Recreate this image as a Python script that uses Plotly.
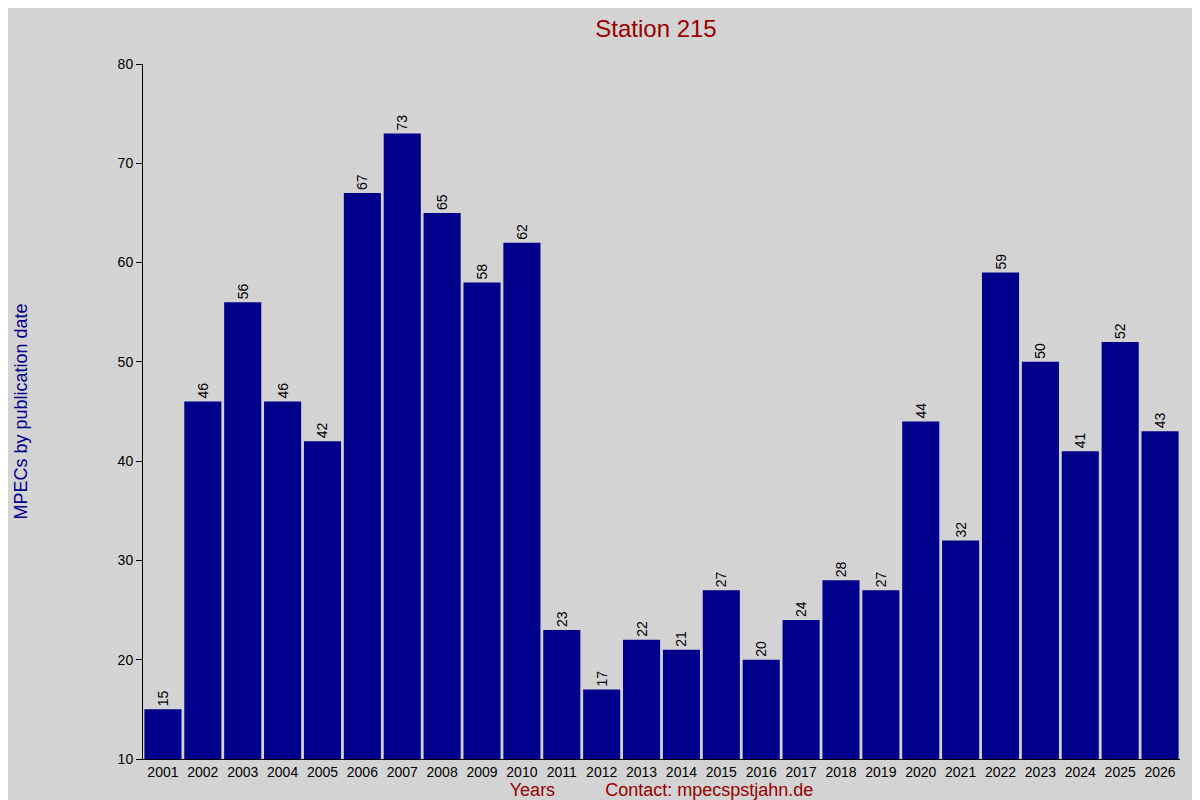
import plotly.graph_objects as go

years = [str(y) for y in range(2001, 2027)]
counts = [15, 46, 56, 46, 42, 67, 73, 65, 58, 62, 23, 17, 22, 21, 27, 20, 24, 28, 27, 44, 32, 59, 50, 41, 52, 43]

fig = go.Figure()
fig.add_bar(
    x=years, y=counts, marker_color="#00008B", marker_line_width=0,
    text=[str(c) for c in counts], textposition="outside", textangle=-90,
    textfont=dict(color="black", size=14), cliponaxis=False,
)
fig.update_layout(
    width=1200, height=800,
    paper_bgcolor="#D3D3D3", plot_bgcolor="#D3D3D3",
    font=dict(family="Liberation Sans, Arial", size=14, color="black"),
    title=dict(text="Station 215", x=0.54, y=0.985, yanchor="top",
               font=dict(size=24, color="#990000")),
    margin=dict(l=126, r=28, t=56, b=49),
    bargap=0.07, showlegend=False,
    xaxis=dict(showline=True, linecolor="black", ticks="", showgrid=False,
               title=dict(text="Years          Contact: mpecspstjahn.de",
                          font=dict(size=18, color="#990000"), standoff=2)),
    yaxis=dict(range=[10, 80], dtick=10, showline=True, linecolor="black",
               ticks="outside", ticklen=6, tickcolor="black", showgrid=False,
               title=dict(text="MPECs by publication date",
                          font=dict(size=18, color="#00008B"), standoff=85)),
)
fig.write_html("out.html")
